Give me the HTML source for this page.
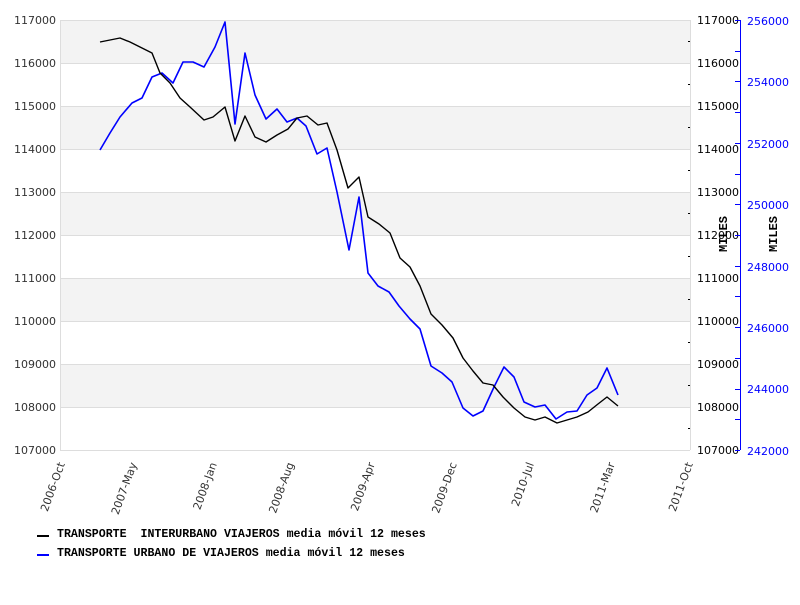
<!DOCTYPE html>
<html><head><meta charset="utf-8"><style>
body{margin:0;background:#fff}
.sans text{font-family:"DejaVu Sans","Liberation Sans",sans-serif}
.mono text{font-family:"Liberation Mono","DejaVu Sans Mono",monospace;font-weight:bold}
</style></head><body>
<svg width="800" height="600" xmlns="http://www.w3.org/2000/svg">
<rect width="800" height="600" fill="#fff"/>
<g fill="#f3f3f3">
<rect x="60" y="20" width="630" height="43"/>
<rect x="60" y="106" width="630" height="43"/>
<rect x="60" y="192" width="630" height="43"/>
<rect x="60" y="278" width="630" height="43"/>
<rect x="60" y="364" width="630" height="43"/>
</g>
<g stroke="#dddddd" stroke-width="1">
<line x1="60" y1="20.5" x2="690" y2="20.5"/>
<line x1="60" y1="63.5" x2="690" y2="63.5"/>
<line x1="60" y1="106.5" x2="690" y2="106.5"/>
<line x1="60" y1="149.5" x2="690" y2="149.5"/>
<line x1="60" y1="192.5" x2="690" y2="192.5"/>
<line x1="60" y1="235.5" x2="690" y2="235.5"/>
<line x1="60" y1="278.5" x2="690" y2="278.5"/>
<line x1="60" y1="321.5" x2="690" y2="321.5"/>
<line x1="60" y1="364.5" x2="690" y2="364.5"/>
<line x1="60" y1="407.5" x2="690" y2="407.5"/>
<line x1="60" y1="450.5" x2="690" y2="450.5"/>
<line x1="60.5" y1="20" x2="60.5" y2="450"/>
<line x1="690.5" y1="20" x2="690.5" y2="450"/>
</g>
<g class="sans" font-size="11" fill="#333" text-anchor="end">
<text x="56" y="24">117000</text><text x="56" y="67">116000</text><text x="56" y="110">115000</text>
<text x="56" y="153">114000</text><text x="56" y="196">113000</text><text x="56" y="239">112000</text>
<text x="56" y="282">111000</text><text x="56" y="325">110000</text><text x="56" y="368">109000</text>
<text x="56" y="411">108000</text><text x="56" y="454">107000</text>
</g>
<g stroke="#000" stroke-width="1">
<line x1="688" y1="41.5" x2="690" y2="41.5"/><line x1="688" y1="84.5" x2="690" y2="84.5"/>
<line x1="688" y1="127.5" x2="690" y2="127.5"/><line x1="688" y1="170.5" x2="690" y2="170.5"/>
<line x1="688" y1="213.5" x2="690" y2="213.5"/><line x1="688" y1="256.5" x2="690" y2="256.5"/>
<line x1="688" y1="299.5" x2="690" y2="299.5"/><line x1="688" y1="342.5" x2="690" y2="342.5"/>
<line x1="688" y1="385.5" x2="690" y2="385.5"/><line x1="688" y1="428.5" x2="690" y2="428.5"/>
</g>
<g class="sans" font-size="11" fill="#000">
<text x="697" y="24">117000</text><text x="697" y="67">116000</text><text x="697" y="110">115000</text>
<text x="697" y="153">114000</text><text x="697" y="196">113000</text><text x="697" y="239">112000</text>
<text x="697" y="282">111000</text><text x="697" y="325">110000</text><text x="697" y="368">109000</text>
<text x="697" y="411">108000</text><text x="697" y="454">107000</text>
</g>
<line x1="740.5" y1="20" x2="740.5" y2="450" stroke="#00f"/>
<g stroke="#00f">
<line x1="735" y1="20.5" x2="740" y2="20.5"/><line x1="735" y1="51.5" x2="740" y2="51.5"/>
<line x1="735" y1="81.5" x2="740" y2="81.5"/><line x1="735" y1="112.5" x2="740" y2="112.5"/>
<line x1="735" y1="143.5" x2="740" y2="143.5"/><line x1="735" y1="174.5" x2="740" y2="174.5"/>
<line x1="735" y1="204.5" x2="740" y2="204.5"/><line x1="735" y1="235.5" x2="740" y2="235.5"/>
<line x1="735" y1="266.5" x2="740" y2="266.5"/><line x1="735" y1="296.5" x2="740" y2="296.5"/>
<line x1="735" y1="327.5" x2="740" y2="327.5"/><line x1="735" y1="358.5" x2="740" y2="358.5"/>
<line x1="735" y1="389.5" x2="740" y2="389.5"/><line x1="735" y1="419.5" x2="740" y2="419.5"/>
<line x1="735" y1="450.5" x2="740" y2="450.5"/>
</g>
<g class="sans" font-size="11" fill="#00f">
<text x="747" y="25">256000</text><text x="747" y="86">254000</text><text x="747" y="148">252000</text>
<text x="747" y="209">250000</text><text x="747" y="271">248000</text><text x="747" y="332">246000</text>
<text x="747" y="393">244000</text><text x="747" y="455">242000</text>
</g>
<g class="mono" font-size="12" fill="#000">
<text transform="translate(727,252) rotate(-90)">MILES</text>
<text transform="translate(777,252) rotate(-90)">MILES</text>
</g>
<g class="sans" font-size="11" fill="#333" text-anchor="end">
<text transform="translate(65,464) rotate(-70)">2006-Oct</text>
<text transform="translate(137,464) rotate(-70)">2007-May</text>
<text transform="translate(217,464) rotate(-70)">2008-Jan</text>
<text transform="translate(294,464) rotate(-70)">2008-Aug</text>
<text transform="translate(375,464) rotate(-70)">2009-Apr</text>
<text transform="translate(457,464) rotate(-70)">2009-Dec</text>
<text transform="translate(534,464) rotate(-70)">2010-Jul</text>
<text transform="translate(615,464) rotate(-70)">2011-Mar</text>
<text transform="translate(693,464) rotate(-70)">2011-Oct</text>
</g>
<polyline fill="none" stroke="#00f" stroke-width="1.6" stroke-linejoin="round" points="100,150 110,133 120,117 132,103 142,98 152,77 162,73 173,83 183,62 193,62 204,67 215,47 225,22 235,124 245,53 255,95 266,119 277,109 287,122 297,118 306,126 317,154 327,148 337,192 349,250 359,197 368,273 378,286 389,292 399,306 410,319 420,329 431,366 442,373 452,382 463,408 473,416 483,411 494,387 504,367 514,377 524,402 535,407 545,405 556,419 567,412 577,411 587,395 597,388 607,368 618,395"/>
<polyline fill="none" stroke="#000" stroke-width="1.4" stroke-linejoin="round" points="100,42 110,40 120,38 130,42 140,47 152,53 160,73 170,83 180,98 190,107 204,120 213,117 225,107 235,141 245,116 255,137 266,142 277,135 288,129 297,118 307,116 318,125 327,123 337,150 348,188 359,177 368,217 379,224 390,233 400,258 410,267 420,286 431,314 442,325 453,338 463,358 473,371 483,383 493,385 503,397 514,408 525,417 535,420 545,417 557,423 567,420 577,417 588,412 598,404 607,397 618,406"/>
<rect x="37" y="535" width="12" height="2" fill="#000"/>
<rect x="37" y="554" width="12" height="2" fill="#00f"/>
<g class="mono" font-size="11.6" fill="#000">
<text x="57" y="537" xml:space="preserve">TRANSPORTE  INTERURBANO VIAJEROS media móvil 12 meses</text>
<text x="57" y="556">TRANSPORTE URBANO DE VIAJEROS media móvil 12 meses</text>
</g>
</svg>
</body></html>
